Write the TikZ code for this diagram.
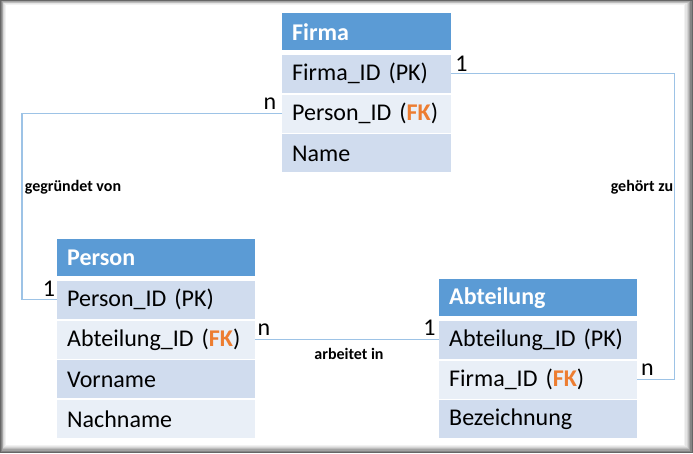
\documentclass[tikz,border=0pt]{standalone}
\usepackage{fontspec}
\setmainfont{Carlito}
\usetikzlibrary{positioning}
\definecolor{head-blue}{HTML}{5B9BD5}
\definecolor{row-dark}{HTML}{D0DCEE}
\definecolor{row-light}{HTML}{E9EFF7}
\definecolor{link-blue}{HTML}{9DC3E6}
\definecolor{fk-orange}{HTML}{ED7D31}
\tikzstyle{header-node}=[fill=head-blue,text=white,font=\bfseries\fontsize{24}{27}\selectfont,minimum height=37pt,inner xsep=10pt,inner ysep=0pt,align=left]
\tikzstyle{dark-row}=[fill=row-dark,font=\fontsize{24}{27}\selectfont,minimum height=38pt,inner xsep=10pt,inner ysep=0pt,align=left]
\tikzstyle{light-row}=[dark-row,fill=row-light]
\tikzstyle{wide-box}=[text width=178pt]
\tikzstyle{narrow-box}=[text width=149pt]
\tikzstyle{mult-node}=[font=\fontsize{24}{27}\selectfont,inner sep=0pt]
\tikzstyle{rel-node}=[font=\bfseries\fontsize{16}{19}\selectfont,inner sep=0pt]
\tikzstyle{link-line}=[draw=link-blue,line width=1.3pt]
\newcommand{\fkmark}{{\color{fk-orange}\bfseries FK}}

\begin{document}
\begin{tikzpicture}[x=1pt,y=-1pt]
        \useasboundingbox (0,0) rectangle (693,453);
        % frame
        \foreach \i/\shade in {0/60,1/48,2/36,3/26,4/17,5/10,6/5}
            \fill[black!\shade] (\i*0.85,\i*0.65) rectangle (693-\i*1.3,453-\i*1.2);
        \fill[white] (6,4.5) rectangle (684,444.5);

        \begin{scope}
            \node (firma)[header-node,narrow-box,anchor=north west] at (282,13) {Firma};
            \node (firma-pk)[dark-row,narrow-box,below=4pt of firma] {Firma\_ID (PK)};
            \node (firma-fk)[light-row,narrow-box,below=1.5pt of firma-pk] {Person\_ID (\fkmark)};
            \node (firma-name)[dark-row,narrow-box,below=1.5pt of firma-fk] {Name};

            \node (person)[header-node,wide-box,anchor=north west] at (57,239) {Person};
            \node (person-pk)[dark-row,wide-box,below=4pt of person] {Person\_ID (PK)};
            \node (person-fk)[light-row,wide-box,below=1.5pt of person-pk] {Abteilung\_ID (\fkmark)};
            \node (person-vor)[dark-row,wide-box,below=1.5pt of person-fk] {Vorname};
            \node (person-nach)[light-row,wide-box,below=1.5pt of person-vor] {Nachname};

            \node (abt)[header-node,wide-box,anchor=north west] at (439,279) {Abteilung};
            \node (abt-pk)[dark-row,wide-box,below=4pt of abt] {Abteilung\_ID (PK)};
            \node (abt-fk)[light-row,wide-box,below=1.5pt of abt-pk] {Firma\_ID (\fkmark)};
            \node (abt-bez)[dark-row,wide-box,below=1.5pt of abt-fk] {Bezeichnung};
        \end{scope}

        \begin{scope}[every path/.style=link-line]
            \path (firma-fk.west) -- ++(-260,0) |- (person-pk.west);
            \path (firma-pk.east) -- ++(223,0) |- (abt-fk.east);
            \path (person-fk.east) -- (person-fk.east -| abt-pk.west);
        \end{scope}

        \node (m-firma-n)[mult-node] at (270,104) {n};
        \node (m-firma-1)[mult-node] at (461.5,63.5) {1};
        \node (m-person-1)[mult-node] at (49,288.5) {1};
        \node (m-person-n)[mult-node] at (264,330) {n};
        \node (m-abt-1)[mult-node] at (429.5,328) {1};
        \node (m-abt-n)[mult-node] at (647.5,370) {n};

        \node (r-gegruendet)[rel-node] at (73,187) {gegründet von};
        \node (r-gehoert)[rel-node] at (642,187) {gehört zu};
        \node (r-arbeitet)[rel-node] at (349,354) {arbeitet in};

    \end{tikzpicture}
\end{document}
